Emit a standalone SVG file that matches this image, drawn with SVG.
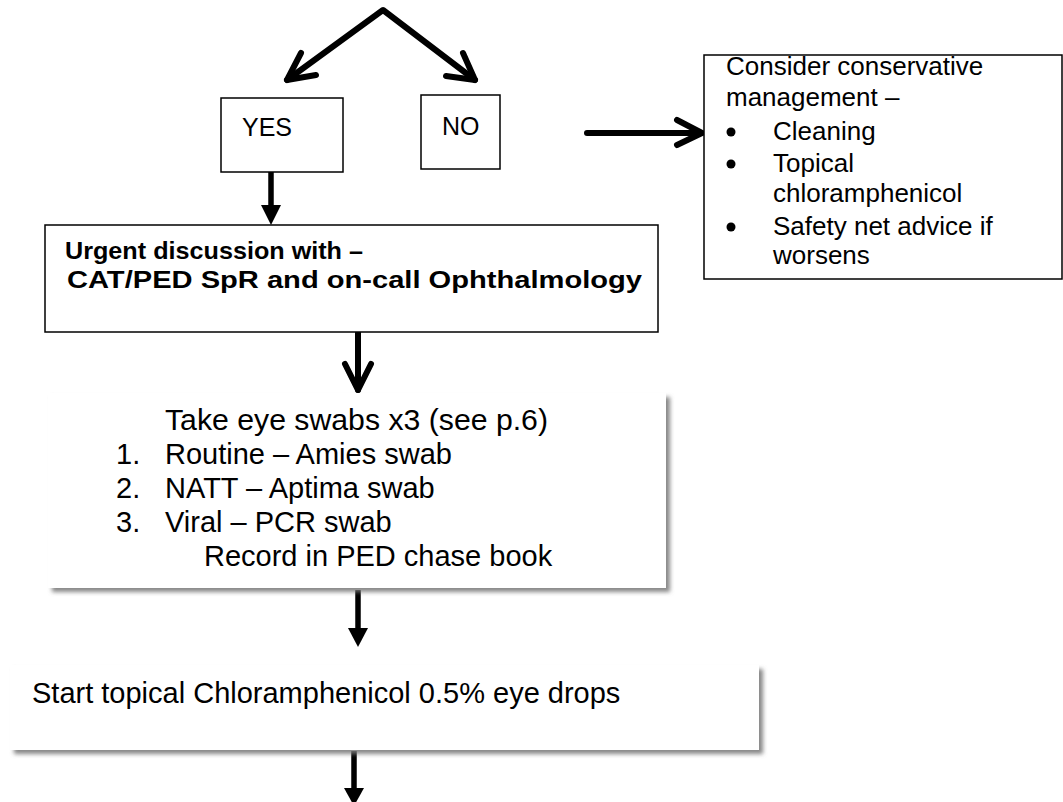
<svg xmlns="http://www.w3.org/2000/svg" width="1063" height="802" viewBox="0 0 1063 802">
<defs>
<style>
.box{fill:#fff;stroke:#000;stroke-width:1.5}
.sbox{fill:#fff;stroke:none}
.t{font-family:"Liberation Sans",Arial,sans-serif;fill:#000}
.b{font-weight:bold}
.thick{fill:none;stroke:#000;stroke-width:6;stroke-linecap:round;stroke-linejoin:round}
.shaft{fill:none;stroke:#000;stroke-width:5.5}
.head{fill:#000}
</style>
<filter id="sh" x="-5%" y="-10%" width="115%" height="130%">
<feDropShadow dx="4" dy="4" stdDeviation="2" flood-color="#7a7a7a" flood-opacity="0.9"/>
</filter>
</defs>
<rect width="1063" height="802" fill="#fff"/>

<g id="connectors">
<path class="thick" d="M287,80 L383,10 L475,80"/>
<path class="thick" d="M301,53 L287,80 L316,75"/>
<path class="thick" d="M463,53 L475,80 L446,76"/>
<path class="thick" d="M587,133 L701,133"/>
<path class="thick" d="M677,120 L702,133 L677,145"/>
<line class="shaft" x1="271" y1="172" x2="271" y2="210"/>
<polygon class="head" points="261,205 281,205 271,225"/>
<path class="thick" d="M358,333 L358,390"/>
<path class="thick" d="M345,364 L358,390 L371,364"/>
<line class="shaft" x1="358" y1="590" x2="358" y2="632"/>
<polygon class="head" points="348,628 368,628 358,647"/>
<line class="shaft" x1="354" y1="751" x2="354" y2="790"/>
<polygon class="head" points="344,788 364,788 354,806"/>
</g>

<g id="yes">
<rect class="box" x="221" y="98" width="122" height="74"/>
<text class="t" x="242" y="136" font-size="25">YES</text>
</g>

<g id="no">
<rect class="box" x="421" y="95" width="79" height="74"/>
<text class="t" x="442" y="135" font-size="25">NO</text>
</g>

<g id="conservative">
<rect class="box" x="704" y="55" width="358" height="224"/>
<text class="t" font-size="26">
<tspan x="726" y="75">Consider conservative</tspan>
<tspan x="726" y="106">management –</tspan>
</text>
<g class="t" font-size="26">
<circle cx="731" cy="132" r="4.5"/>
<circle cx="731" cy="164" r="4.5"/>
<circle cx="731" cy="227" r="4.5"/>
<text x="773" y="140">Cleaning</text>
<text x="773" y="172">Topical</text>
<text x="773" y="202">chloramphenicol</text>
<text x="773" y="235">Safety net advice if</text>
<text x="773" y="264">worsens</text>
</g>
</g>

<g id="urgent">
<rect class="box" x="45" y="225" width="613" height="107"/>
<text class="t b" x="65" y="259" font-size="24" textLength="298" lengthAdjust="spacingAndGlyphs">Urgent discussion with –</text>
<text class="t b" x="67" y="288" font-size="24" textLength="575" lengthAdjust="spacingAndGlyphs">CAT/PED SpR and on-call Ophthalmology</text>
</g>

<g id="swabs">
<rect class="sbox" x="48" y="393" width="618" height="195" filter="url(#sh)"/>
<g class="t" font-size="29">
<text x="165" y="430" textLength="383" lengthAdjust="spacingAndGlyphs">Take eye swabs x3  (see p.6)</text>
<text x="116" y="464">1.</text>
<text x="165" y="464">Routine – Amies swab</text>
<text x="116" y="498">2.</text>
<text x="165" y="498">NATT – Aptima swab</text>
<text x="116" y="532">3.</text>
<text x="165" y="532">Viral – PCR swab</text>
<text x="204" y="566">Record in PED chase book</text>
</g>
</g>

<g id="chloramphenicol">
<rect class="sbox" x="10" y="665" width="749" height="85" filter="url(#sh)"/>
<text class="t" x="32" y="703" font-size="29">Start topical Chloramphenicol 0.5% eye drops</text>
</g>
</svg>
